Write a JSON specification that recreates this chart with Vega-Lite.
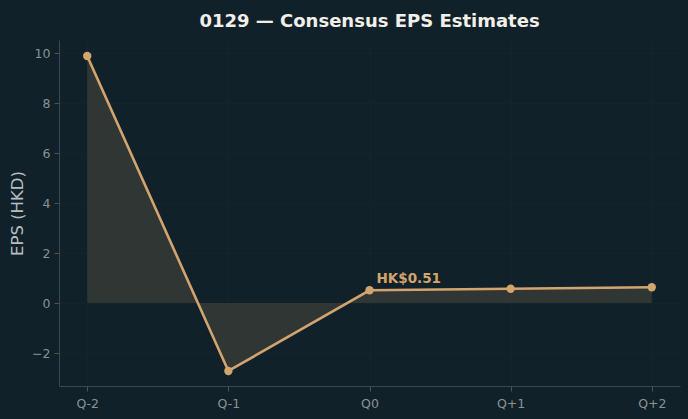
{
  "$schema": "https://vega.github.io/schema/vega-lite/v6.json",
  "width": 621,
  "height": 346,
  "autosize": {"type": "none"},
  "padding": {"left": 59, "top": 40, "right": 8, "bottom": 33},
  "background": "#10212a",
  "title": {"text": "0129 — Consensus EPS Estimates", "color": "#f2efe8", "fontSize": 18, "fontWeight": "bold", "font": "DejaVu Sans", "anchor": "middle", "offset": 7},
  "config": {
    "view": {"stroke": null},
    "axis": {"labelFont": "DejaVu Sans", "titleFont": "DejaVu Sans", "labelColor": "#8a9296", "labelFontSize": 12.5, "gridColor": "#14242d", "gridOpacity": 1, "domainColor": "#3c474b", "tickColor": "#4a5458", "titleColor": "#b8bec0", "titleFontWeight": "normal"}
  },
  "data": {"values": [
    {"q": "Q-2", "eps": 9.88, "label": ""},
    {"q": "Q-1", "eps": -2.72, "label": ""},
    {"q": "Q0", "eps": 0.51, "label": "HK$0.51"},
    {"q": "Q+1", "eps": 0.57, "label": ""},
    {"q": "Q+2", "eps": 0.63, "label": ""}
  ]},
  "encoding": {
    "x": {"field": "q", "type": "ordinal", "sort": null, "scale": {"type": "point", "padding": 0.2},
      "axis": {"title": null, "labelAngle": 0, "grid": true, "labelPadding": 6, "tickSize": 5}},
    "y": {"field": "eps", "type": "quantitative", "scale": {"domain": [-3.32, 10.52], "nice": false, "zero": false},
      "axis": {"title": "EPS (HKD)", "titleFontSize": 16.5, "values": [-2, 0, 2, 4, 6, 8, 10], "grid": true, "tickSize": 5, "labelPadding": 4, "titlePadding": 6}}
  },
  "layer": [
    {"mark": {"type": "area", "color": "#3a3d38", "opacity": 0.75}, "encoding": {"y2": {"datum": 0}}},
    {"mark": {"type": "line", "color": "#d4a46e", "strokeWidth": 2.6}},
    {"mark": {"type": "point", "filled": true, "color": "#d4a46e", "size": 70, "opacity": 1}},
    {"mark": {"type": "text", "align": "left", "baseline": "bottom", "dx": 7, "dy": -4, "color": "#d4a46e", "fontSize": 13.5, "fontWeight": "bold", "font": "DejaVu Sans"}, "encoding": {"text": {"field": "label"}}}
  ]
}
